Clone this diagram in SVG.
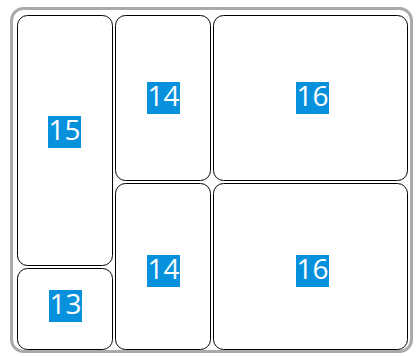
<svg xmlns="http://www.w3.org/2000/svg" width="416" height="356" viewBox="0 0 416 356">
<style>
.cell{fill:#fff;stroke:#000;stroke-width:1}
.lb{fill:#0791DC}
.t{font-family:"Open Sans",sans-serif;font-size:28px;fill:#fff;text-anchor:middle}
</style>
<rect x="0" y="0" width="416" height="356" fill="#fff"/>
<rect x="11.5" y="8.5" width="400" height="343" rx="12" fill="#fff" stroke="#aaa" stroke-width="3"/>
<g id="n15"><rect class="cell" x="17.5" y="15.5" width="95" height="250" rx="10"/><rect class="lb" x="48" y="116" width="33" height="32"/><text class="t" x="64.5" y="140">15</text></g>
<g id="n13"><rect class="cell" x="17.5" y="268.5" width="95" height="81" rx="10"/><rect class="lb" x="49" y="290" width="33" height="32"/><text class="t" x="65.5" y="314">13</text></g>
<g id="n14a"><rect class="cell" x="115.5" y="15.5" width="95" height="165" rx="10"/><rect class="lb" x="147" y="82" width="33" height="32"/><text class="t" x="163.5" y="106">14</text></g>
<g id="n14b"><rect class="cell" x="115.5" y="183.5" width="95" height="166" rx="10"/><rect class="lb" x="147" y="255" width="33" height="32"/><text class="t" x="163.5" y="279">14</text></g>
<g id="n16a"><rect class="cell" x="213.5" y="15.5" width="194" height="165" rx="10"/><rect class="lb" x="296" y="82" width="33" height="32"/><text class="t" x="312.5" y="106">16</text></g>
<g id="n16b"><rect class="cell" x="213.5" y="183.5" width="194" height="166" rx="10"/><rect class="lb" x="296" y="255" width="33" height="32"/><text class="t" x="312.5" y="279">16</text></g>
<g id="connectors"></g>
</svg>
